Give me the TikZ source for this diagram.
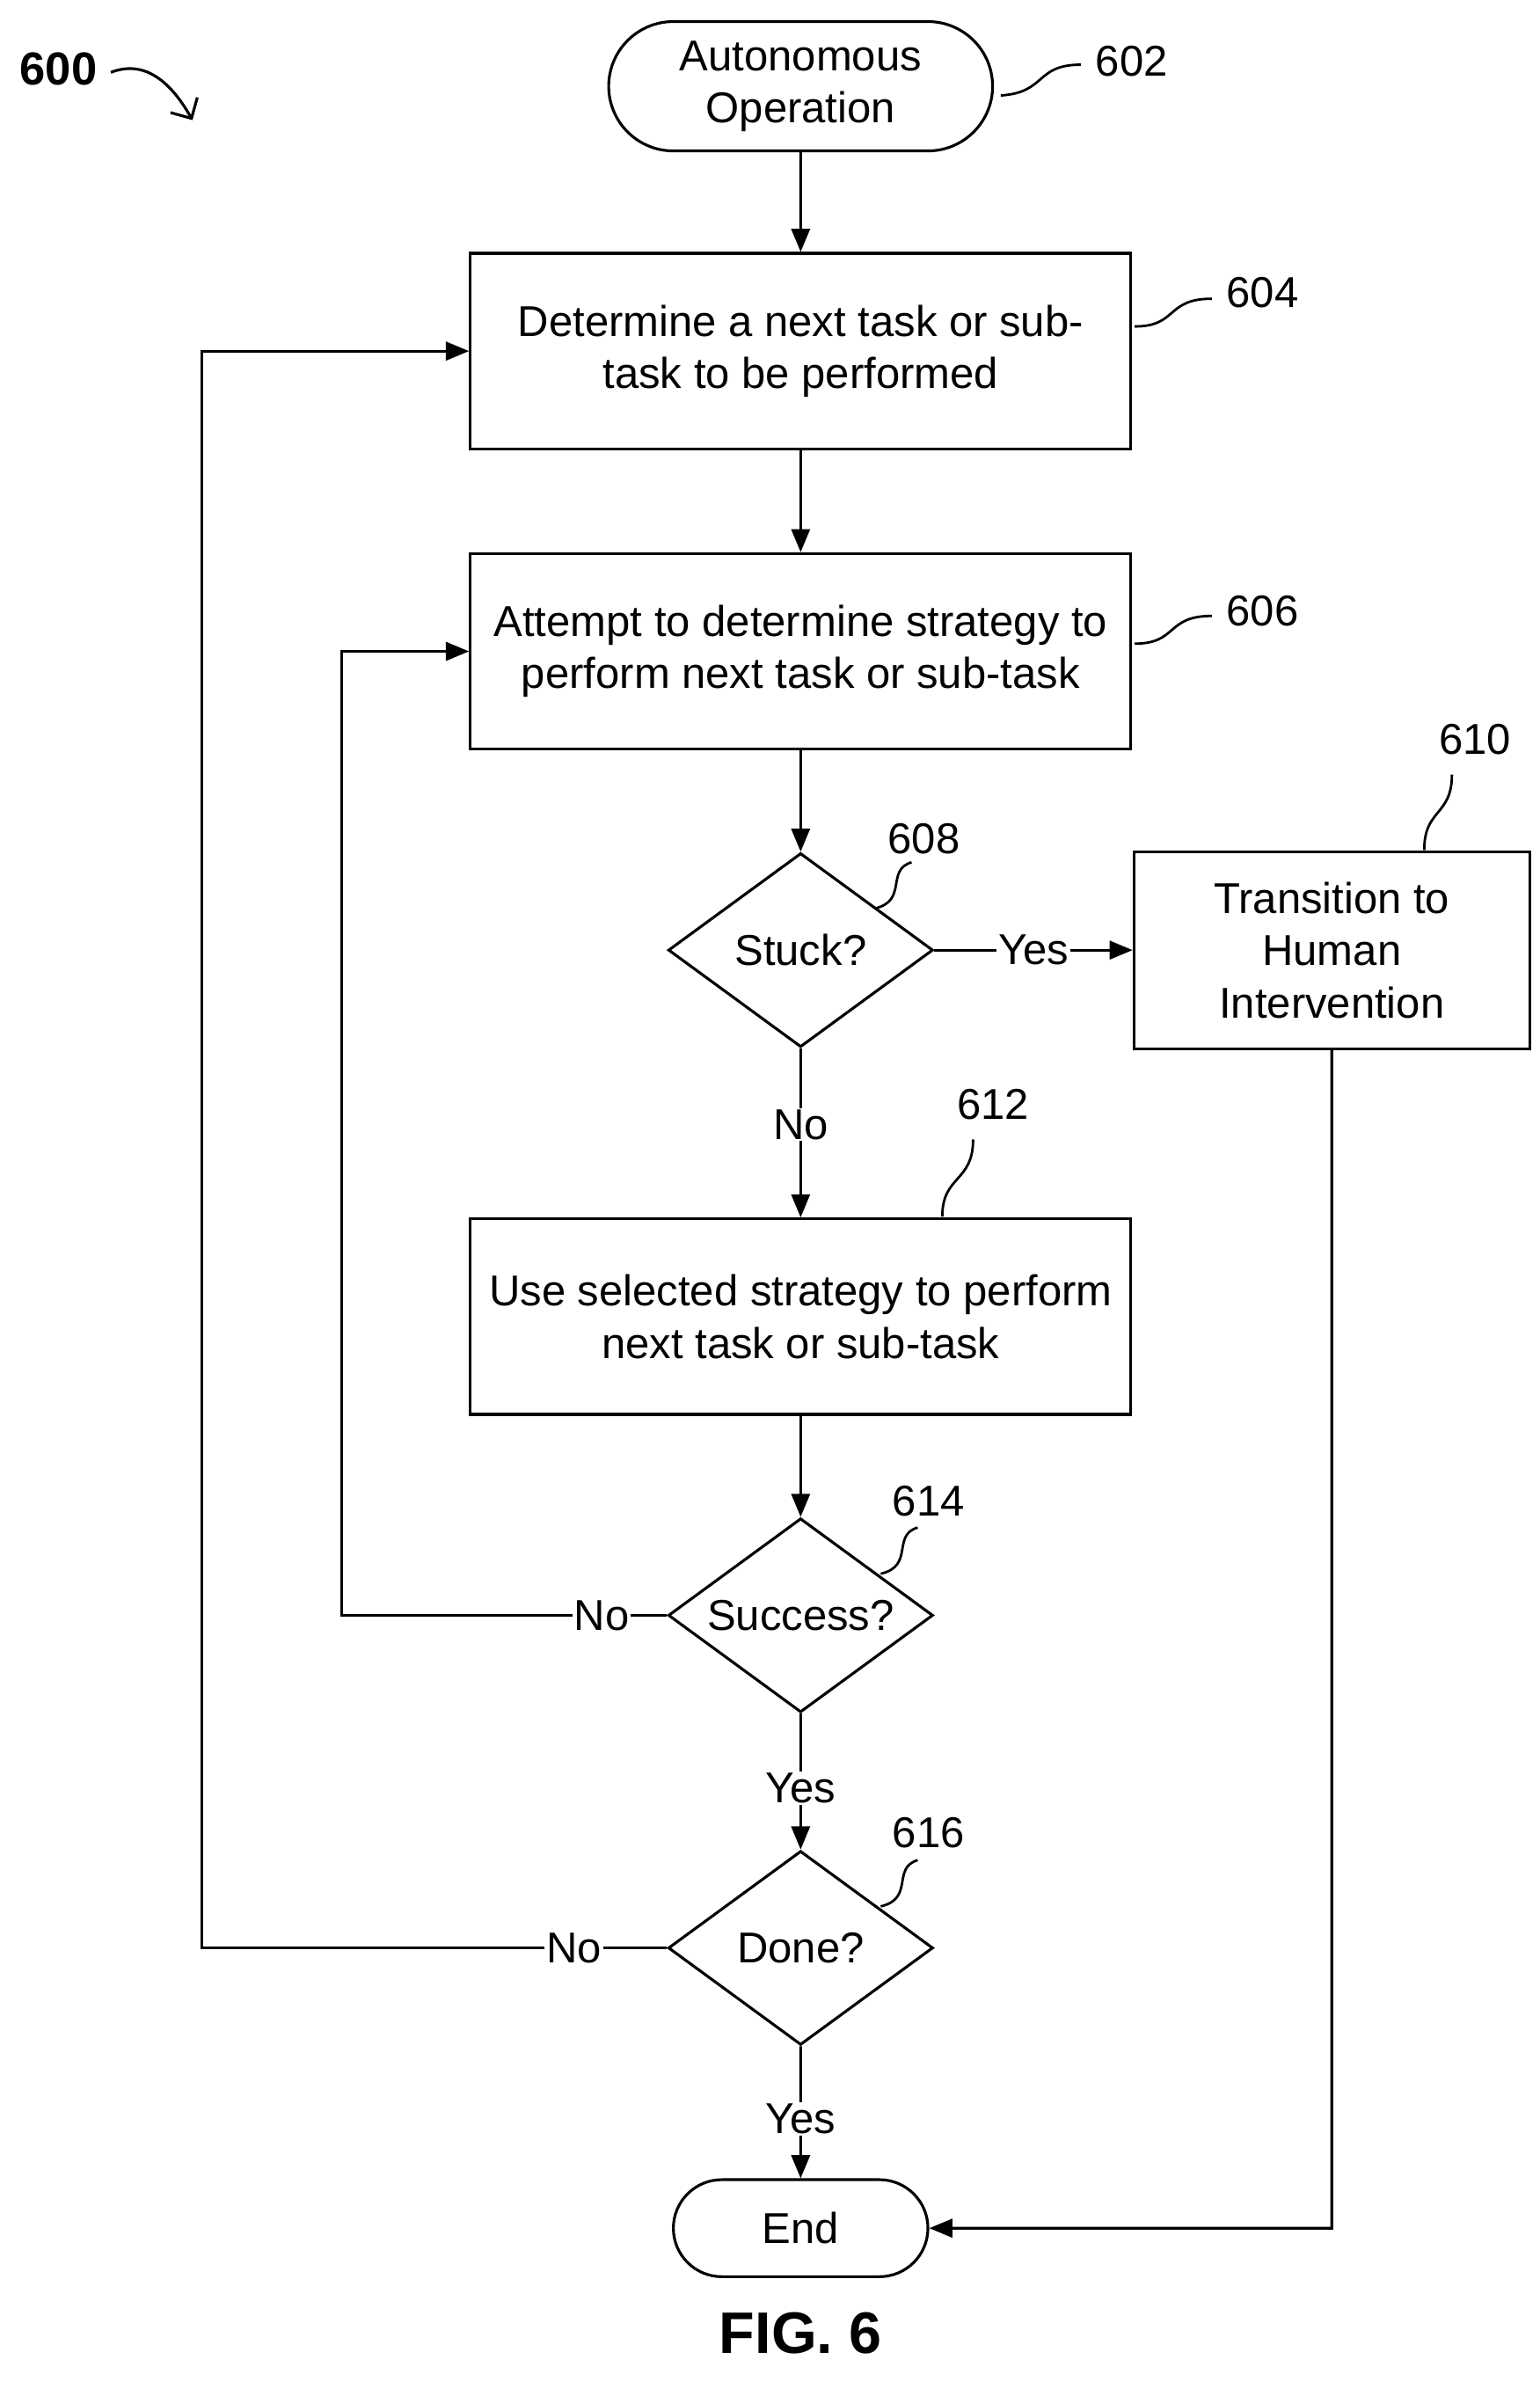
\documentclass[tikz,border=0pt]{standalone}
\usepackage{fontspec}
\setmainfont{Liberation Sans}
\usetikzlibrary{shapes.geometric}
\usetikzlibrary{shapes.misc}
\usetikzlibrary{arrows.meta}
\tikzset{
	every node/.style={font=\fontsize{28}{34}\selectfont},
	process/.style={draw, line width=1.8pt, minimum width=429pt, minimum height=127pt, align=center},
	terminal/.style={draw, line width=1.8pt, rounded rectangle, align=center},
	decision/.style={draw, line width=1.8pt, diamond, aspect=1.36, inner sep=0pt, minimum width=172pt, minimum height=126pt},
	flow/.style={line width=1.8pt, -{Triangle[length=15pt,width=12pt]}},
	tag/.style={line width=1.6pt}
}
\begin{document}
\begin{tikzpicture}[x=1pt,y=-1pt]
    \useasboundingbox (0,0) rectangle (1000,1556);
    % blocks
    \node [terminal, minimum width=256pt, minimum height=84pt] (start) at (520,56) {Autonomous\\Operation};
    \node [process] (next) at (520,228) {Determine a next task or sub-\\task to be performed};
    \node [process] (strategy) at (520,423) {Attempt to determine strategy to\\perform next task or sub-task};
    \node [decision] (stuck) at (520,617) {Stuck?};
    \node [process, minimum width=257pt, minimum height=128pt] (human) at (865,617) {Transition to\\Human\\Intervention};
    \node [process] (use) at (520,855) {Use selected strategy to perform\\next task or sub-task};
    \node [decision] (success) at (520,1049) {Success?};
    \node [decision] (done) at (520,1265) {Done?};
    \node [terminal, minimum width=172pt, minimum height=63pt] (end) at (520,1447) {End};
    % corners
    \coordinate (loopa) at (222,1049);
    \coordinate (loopb) at (131,1265);
    \coordinate (down) at (865,1447);

    \draw [flow] (start) -- (next);
    \draw [flow] (next) -- (strategy);
    \draw [flow] (strategy) -- (stuck);
    \draw [flow] (stuck) -- node [fill=white, inner sep=1pt] {Yes} (human);
    \draw [flow] (stuck) -- node [fill=white, inner sep=1pt, pos=0.45] {No} (use);
    \draw [flow] (use) -- (success);
    \draw [flow] (success) -- node [fill=white, inner sep=1pt, pos=0.55] {Yes} (done);
    \draw [flow] (done) -- node [fill=white, inner sep=1pt, pos=0.55] {Yes} (end);
    \draw [flow] (success) -- node [fill=white, inner sep=1pt, pos=0.2] {No} (loopa) |- (strategy);
    \draw [flow] (done) -- node [fill=white, inner sep=1pt, pos=0.2] {No} (loopb) |- (next);
    \draw [flow] (human) -- (down) -- (end);

    % reference numerals
    \node (n602) at (735,40) {602};
    \node (n604) at (820,190) {604};
    \node (n606) at (820,397) {606};
    \node (n608) at (600,545) {608};
    \node (n610) at (958,480) {610};
    \node (n612) at (645,717) {612};
    \node (n614) at (603,975) {614};
    \node (n616) at (603,1190) {616};
    \draw [tag] (650,62) .. controls (680,60) and (672,42) .. (702,42);
    \draw [tag] (737,212) .. controls (765,212) and (757,194) .. (787,194);
    \draw [tag] (737,418) .. controls (765,418) and (757,400) .. (787,400);
    \draw [tag] (568,590) .. controls (590,585) and (575,565) .. (592,560);
    \draw [tag] (925,552) .. controls (925,525) and (943,530) .. (943,503);
    \draw [tag] (612,790) .. controls (612,763) and (632,768) .. (632,740);
    \draw [tag] (572,1022) .. controls (594,1017) and (579,997) .. (596,992);
    \draw [tag] (572,1238) .. controls (594,1233) and (579,1213) .. (596,1208);

    \node [font=\bfseries\fontsize{30}{32}\selectfont] (fig) at (38,45) {600};
    \draw [line width=1.8pt, -{Straight Barb[length=10pt]}] (72,47) .. controls (95,38) and (112,55) .. (125,78);
    \node [font=\bfseries\fontsize{38}{40}\selectfont] (caption) at (520,1515) {FIG. 6};
\end{tikzpicture}
\end{document}
